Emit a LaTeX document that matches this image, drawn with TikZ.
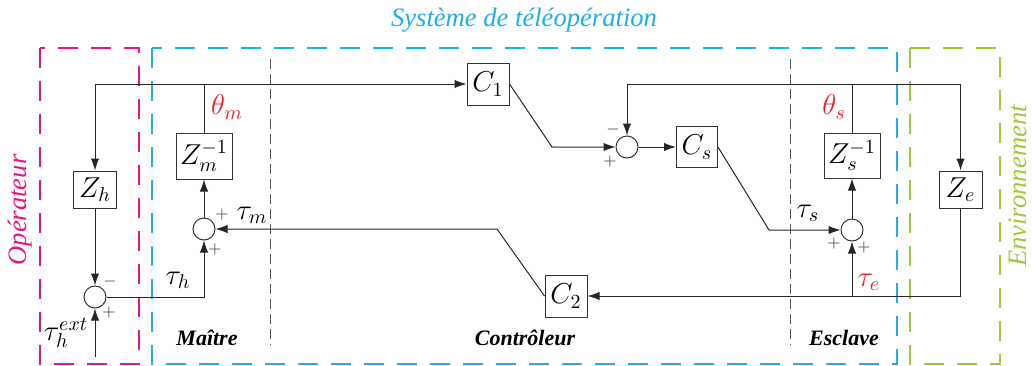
\documentclass[tikz,border=0pt]{standalone}
\usepackage{fontspec}
\setmainfont{Liberation Serif}
\usetikzlibrary{arrows.meta}
\definecolor{cmag}{RGB}{230,20,135}
\definecolor{cblue}{RGB}{30,175,230}
\definecolor{cgreen}{RGB}{160,200,60}
\definecolor{cred}{RGB}{230,35,45}
\definecolor{cgray}{RGB}{90,90,90}
\tikzset{
  wire/.style={line width=0.5pt,draw=black!85},
  arr/.style={wire,-{Latex[length=6pt,width=4.2pt]}},
  blk/.style={draw=black!80,line width=0.5pt,inner sep=0pt,font=\fontsize{14}{16}\selectfont},
  sumnode/.style={circle,draw=black!80,line width=0.5pt,minimum size=11pt,inner sep=0pt},
  frame/.style={line width=1pt,dash pattern=on 10pt off 6.5pt},
  sep/.style={draw=cgray,line width=0.5pt,dash pattern=on 5pt off 2.5pt},
  sig/.style={font=\fontsize{14}{16}\selectfont},
  redsig/.style={font=\fontsize{14}{16}\selectfont,text=cred},
  sgn/.style={font=\fontsize{8.5}{10}\selectfont,text=black!75,inner sep=0pt},
  part/.style={font=\fontsize{11}{13}\selectfont\bfseries\itshape},
  ttl/.style={font=\fontsize{13.3}{15}\selectfont\itshape}
}
\begin{document}
\begin{tikzpicture}[x=0.5pt,y=-0.5pt]
\useasboundingbox (0,0) rectangle (1032,365);
% frames
\draw[frame,draw=cmag] (40,48) rectangle (139,364);
\draw[frame,draw=cblue] (152,48) rectangle (897,364);
\draw[frame,draw=cgreen] (910,48) rectangle (1000,364);
\draw[sep] (270,59) -- (270,345);
\draw[sep] (790,59) -- (790,345);
% titles
\node[ttl,text=cblue] (title) at (524,20) {Système de téléopération};
\node[ttl,text=cmag,rotate=90] (oper) at (20,210) {Opérateur};
\node[ttl,text=cgreen,rotate=90] (envi) at (1018,186) {Environnement};
\node[part] (maitre) at (207,338) {Maître};
\node[part] (ctrl) at (525,338) {Contrôleur};
\node[part] (escl) at (844,338) {Esclave};
% blocks
\node[blk,minimum width=21.5pt,minimum height=18.5pt] (zh) at (95,189.5) {$Z_h$};
\node[blk,minimum width=28pt,minimum height=23pt] (zm) at (204,156) {$Z_m^{-1}$};
\node[blk,minimum width=21pt,minimum height=21pt] (c1) at (488,84) {$C_1$};
\node[blk,minimum width=20.5pt,minimum height=20.5pt] (cs) at (697,147) {$C_s$};
\node[blk,minimum width=28pt,minimum height=22.5pt] (zs) at (852,155.5) {$Z_s^{-1}$};
\node[blk,minimum width=21.5pt,minimum height=18.5pt] (ze) at (960.5,189.5) {$Z_e$};
\node[blk,minimum width=21pt,minimum height=21pt] (c2) at (566,296) {$C_2$};
% sums
\node[sumnode] (sm) at (204,229) {};
\node[sumnode] (sh) at (95,297) {};
\node[sumnode] (s1) at (627,147) {};
\node[sumnode] (s2) at (852,230) {};
% coordinates
\coordinate (tl) at (95,84);
\coordinate (tr) at (960.5,84);
\coordinate (k1) at (552,147);
\coordinate (k2) at (769,230);
\coordinate (k3) at (497,229);
\coordinate (ext) at (95,357);
% wires
\draw[arr] (tl) -- (zh.north);
\draw[arr] (tl) -- (c1.west);
\draw[wire] (zm.north) -- (zm.north |- tl);
\draw[arr] (c1.east) -- (k1) -- (s1.west);
\draw[arr] (s1.east) -- (cs.west);
\draw[arr] (tr) -- (ze.north);
\draw[wire] (s1.north |- tr) -- (tr);
\draw[arr] (s1.north |- tr) -- (s1.north);
\draw[wire] (zs.north) -- (zs.north |- tr);
\draw[arr] (cs.east) -- (k2) -- (s2.west);
\draw[arr] (s2.north) -- (zs.south);
\draw[arr] (ze.south) |- (c2.east);
\draw[arr] (s2.south |- c2) -- (s2.south);
\draw[arr] (c2.west) -- (k3) -- (sm.east);
\draw[arr] (sm.north) -- (zm.south);
\draw[arr] (zh.south) -- (sh.north);
\draw[arr] (sh.east) -| (sm.south);
\draw[arr] (ext) -- (sh.south);
% signal labels
\node[redsig] (thm) at (227,107) {$\theta_m$};
\node[sig] (taum) at (252,215) {$\tau_m$};
\node[sig] (tauh) at (178,280) {$\tau_h$};
\node[sig] (tauext) at (66,333) {$\tau_h^{ext}$};
\node[redsig] (ths) at (834,107) {$\theta_s$};
\node[sig] (taus) at (808,213) {$\tau_s$};
\node[redsig] (taue) at (869,282) {$\tau_e$};
% signs
\node[sgn] (p1) at (222,214) {$+$};
\node[sgn] (p2) at (215,249) {$+$};
\node[sgn] (m1) at (110,281) {$-$};
\node[sgn] (p3) at (109,312) {$+$};
\node[sgn] (m2) at (613,129) {$-$};
\node[sgn] (p4) at (610,161) {$+$};
\node[sgn] (p5) at (834,243) {$+$};
\node[sgn] (p6) at (864,247) {$+$};
\end{tikzpicture}
\end{document}
